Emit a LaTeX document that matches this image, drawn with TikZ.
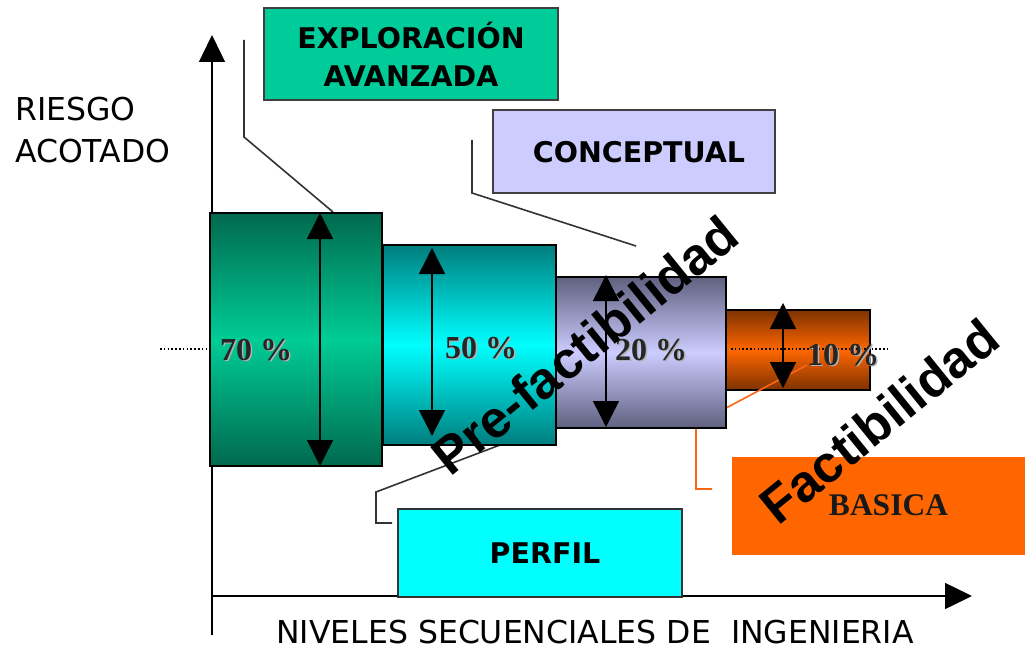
\documentclass[tikz,border=0pt]{standalone}
\usepackage{fontspec}
\setmainfont{DejaVu Sans}
\newfontfamily\arialf{Liberation Sans}
\newfontfamily\timesf{Liberation Serif}
\usetikzlibrary{arrows.meta}
\definecolor{cylA}{RGB}{0,105,78}
\definecolor{cylAm}{RGB}{0,204,150}
\definecolor{cylB}{RGB}{0,125,125}
\definecolor{cylBm}{RGB}{0,255,255}
\definecolor{cylC}{RGB}{96,96,128}
\definecolor{cylCm}{RGB}{204,204,255}
\definecolor{cylD}{RGB}{125,50,0}
\definecolor{cylDm}{RGB}{255,102,0}
\definecolor{explc}{RGB}{0,204,153}
\definecolor{concc}{RGB}{204,204,255}
\definecolor{perfc}{RGB}{0,255,255}
\definecolor{basc}{RGB}{255,102,0}
\definecolor{orln}{RGB}{255,102,20}
\begin{document}
\begin{tikzpicture}[x=1pt,y=-1pt,
  cyl/.style={draw=black, line width=1.3pt, inner sep=0pt},
  dblarrow/.style={line width=1.4pt, {Triangle[width=26pt,length=26pt]}-{Triangle[width=26pt,length=26pt]}},
  axisline/.style={line width=1.5pt, -{Triangle[width=26pt,length=27pt]}},
  callout/.style={draw=black!80, line width=1.6pt},
  orcallout/.style={draw=orln, line width=1.6pt},
  dotline/.style={line width=1.5pt, dash pattern=on 1.6pt off 2.2pt},
  boxlbl/.style={font=\fontsize{28.5}{38}\selectfont\bfseries, align=center, inner sep=0pt, text depth=0pt},
  axlbl/.style={font=\fontsize{31.5}{31.5}\selectfont, inner sep=0pt},
  pct/.style={font=\timesf\fontsize{32}{32}\selectfont\bfseries, text=black!85, anchor=base, inner sep=0pt},
  pctsh/.style={pct, text=black!30},
  big/.style={font=\arialf\fontsize{52}{52}\selectfont\bfseries, rotate=39, inner sep=0pt}
]
\useasboundingbox (0,0) rectangle (1025,650);

% axes
\coordinate (yb) at (212,635);
\coordinate (yt) at (212,35);
\coordinate (xl) at (212,596);
\coordinate (xr) at (972,596);
\draw[axisline] (yb) -- (yt);
\draw[axisline] (xl) -- (xr);

% black callouts
\coordinate (ea) at (244,40);
\coordinate (eb) at (244,137);
\coordinate (ec) at (333,212);
\draw[callout] (ea) -- (eb) -- (ec);
\coordinate (ca) at (472,140);
\coordinate (cb) at (472,193);
\coordinate (cc) at (636,246);
\draw[callout] (ca) -- (cb) -- (cc);
\coordinate (pa) at (500,445);
\coordinate (pb) at (376,492);
\coordinate (pc) at (376,523);
\coordinate (pd) at (392,523);
\draw[callout] (pa) -- (pb) -- (pc) -- (pd);

% 10% cylinder
\node[cyl, top color=cylD, bottom color=cylD, middle color=cylDm, minimum width=144pt, minimum height=80pt] (c10) at (798,350) {};

% dotted axis line
\coordinate (d1) at (160,349);
\coordinate (d2) at (210,349);
\coordinate (d3) at (731,349);
\coordinate (d4) at (888,349);
\draw[dotline] (d1) -- (d2);
\draw[dotline] (d3) -- (d4);

% orange callout
\coordinate (oa) at (807,365);
\coordinate (ob) at (696,424);
\coordinate (oc) at (696,489);
\coordinate (od) at (712,489);
\draw[orcallout] (oa) -- (ob) -- (oc) -- (od);

% other cylinders
\node[cyl, top color=cylC, bottom color=cylC, middle color=cylCm, minimum width=170pt, minimum height=151pt] (c20) at (641,352.5) {};
\node[cyl, top color=cylB, bottom color=cylB, middle color=cylBm, minimum width=173pt, minimum height=200pt] (c50) at (469.5,345) {};
\node[cyl, top color=cylA, bottom color=cylA, middle color=cylAm, minimum width=172pt, minimum height=253pt] (c70) at (296,339.5) {};

% double arrows
\coordinate (a70t) at (320,213);
\coordinate (a70b) at (320,466);
\coordinate (a50t) at (432,248);
\coordinate (a50b) at (432,436);
\coordinate (a20t) at (606,275);
\coordinate (a20b) at (606,427);
\coordinate (a10t) at (783,303);
\coordinate (a10b) at (783,388);
\draw[dblarrow] (a70t) -- (a70b);
\draw[dblarrow] (a50t) -- (a50b);
\draw[dblarrow] (a20t) -- (a20b);
\draw[dblarrow] (a10t) -- (a10b);

% percent labels
\node[pctsh] (p70s) at (257.5,361.5) {70 \%};
\node[pct] (p70) at (256,360) {70 \%};
\node[pctsh] (p50s) at (482.5,359.5) {50 \%};
\node[pct] (p50) at (481,358) {50 \%};
\node[pctsh] (p20s) at (652.5,361.5) {20 \%};
\node[pct] (p20) at (651,360) {20 \%};
\node[pctsh] (p10s) at (844.5,366.5) {10 \%};
\node[pct] (p10) at (843,365) {10 \%};

% boxes
\node[draw=black!75, line width=1.5pt, fill=explc, minimum width=294pt, minimum height=92pt, boxlbl] (expl) at (411,54) {EXPLORACIÓN\\AVANZADA};
\node[draw=black!75, line width=1.5pt, fill=concc, minimum width=282pt, minimum height=83pt, boxlbl] (conc) at (634,151.5) {\hspace*{10pt}CONCEPTUAL};
\node[draw=black!80, line width=1.5pt, fill=perfc, minimum width=284pt, minimum height=88pt, boxlbl] (perf) at (540,553) {\hspace*{10pt}PERFIL};
\node[draw=basc, line width=1pt, fill=basc, minimum width=293pt, minimum height=97pt, inner sep=0pt,
  label={[font=\timesf\fontsize{31.5}{31.5}\selectfont\bfseries, text=black!90, xshift=10pt, text depth=0pt, inner sep=0pt]center:BASICA}] (basi) at (878.5,505.5) {};

% axis labels
\node[axlbl, anchor=base west] (ries) at (15,121) {RIESGO};
\node[axlbl, anchor=base west] (acot) at (15,162) {ACOTADO};
\node[axlbl, anchor=base] (nive) at (595,643) {NIVELES SECUENCIALES DE \ INGENIERIA};

% rotated labels
\node[big] (pref) at (585,345) {Pre-factibilidad};
\node[big] (fact) at (879,421) {Factibilidad};
\end{tikzpicture}
\end{document}
